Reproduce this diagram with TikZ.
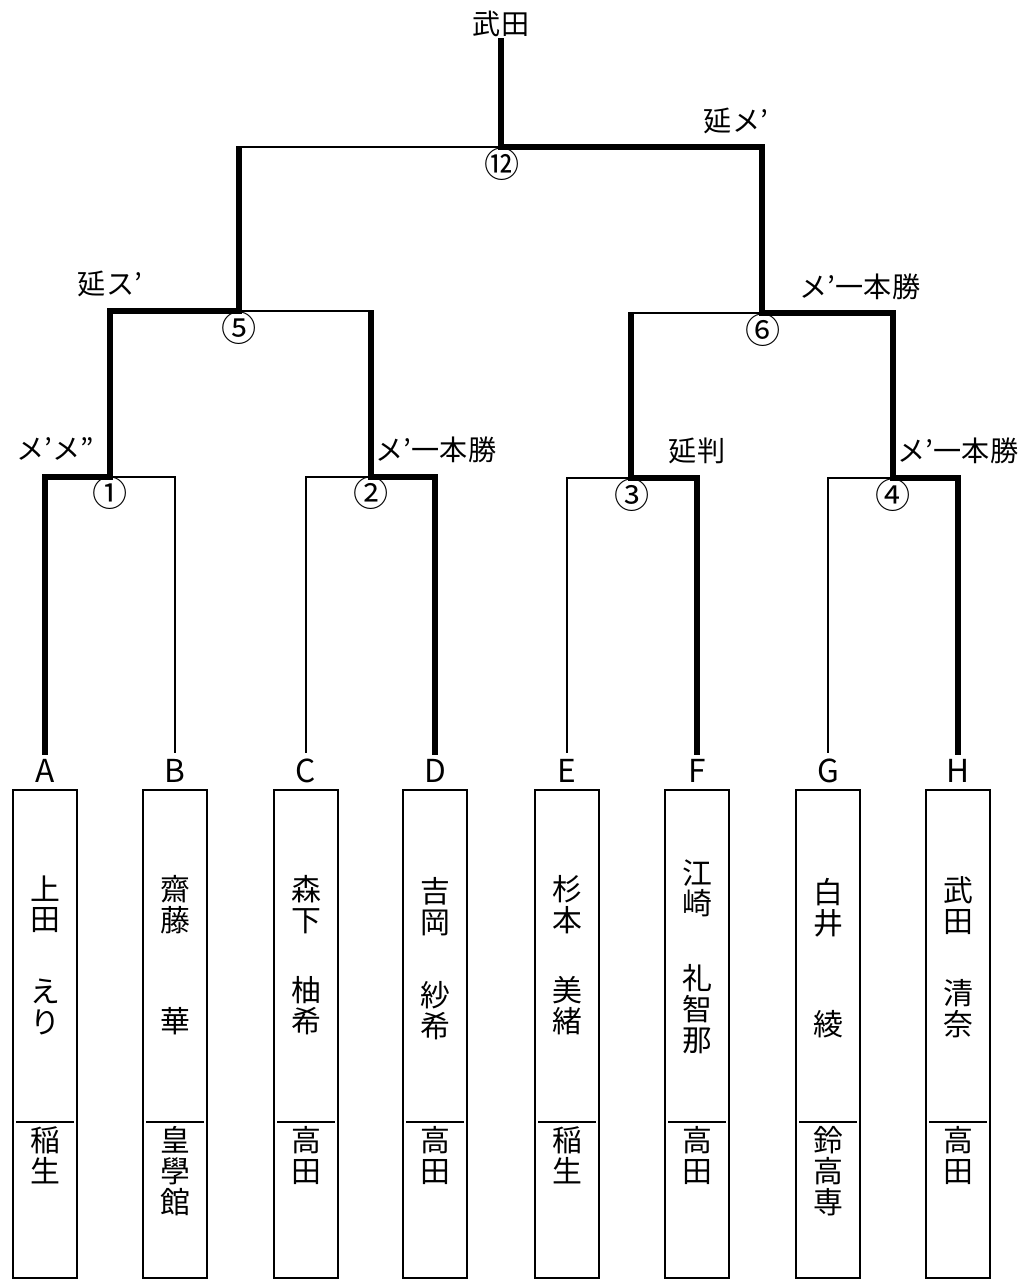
\documentclass[tikz,border=0pt]{standalone}
\usepackage{fontspec}
\setmainfont{Noto Sans CJK JP}

\begin{document}
\begin{tikzpicture}[x=0.02cm, y=-0.02cm,
  win/.style = {line width=3.8pt, line cap=rect},
  lose/.style = {line width=1.5pt, line cap=rect},
  leaf/.style = {inner sep=0pt, outer sep=4pt, font=\fontsize{18}{18}\selectfont},
  entrybox/.style = {draw, line width=1.3pt, minimum width=36.3pt,
    minimum height=277.8pt, inner sep=0pt},
  divider/.style = {line width=0.6pt},
  namecol/.style = {inner sep=0pt, align=center, font=\fontsize{17}{17.6}\selectfont},
  matchno/.style = {inner sep=0pt, font=\fontsize{20}{20}\selectfont},
  result/.style = {inner sep=0pt, font=\fontsize{16}{16}\selectfont}]
  \useasboundingbox (0,0) rectangle (1021,1286);

  % entrants
  \foreach \l/\x/\fam/\giv/\sch/\ft/\gb in {
      A/45/{上\\田}/{え\\り}/{稲\\生}/875/1035,
      B/175/{齋\\藤}/{華}/{皇\\學\\館}/875/1035,
      C/306/{森\\下}/{柚\\希}/{高\\田}/875/1035,
      D/435/{吉\\岡}/{紗\\希}/{高\\田}/877/1040,
      E/567/{杉\\本}/{美\\緒}/{稲\\生}/875/1035,
      F/697/{江\\崎}/{礼\\智\\那}/{高\\田}/859/1054,
      G/828/{白\\井}/{綾}/{鈴\\高\\専}/878/1038,
      H/958/{武\\田}/{清\\奈}/{高\\田}/876/1038} {
    \node[entrybox] (box\l) at (\x,1034) {};
    \node[leaf, anchor=base] (\l) at (\x,782) {\l};
    \draw[divider] (\x-29,1122) -- (\x+29,1122);
    \node[namecol, anchor=north] (fam\l) at (\x,\ft) {\fam};
    \node[namecol, anchor=south] (giv\l) at (\x,\gb) {\giv};
    \node[namecol, anchor=north] (sch\l) at (\x,1126) {\sch};
  }

  % match junctions
  \coordinate (m1) at (110,477);
  \coordinate (m2) at (371,477);
  \coordinate (m3) at (631,478);
  \coordinate (m4) at (893,478);
  \coordinate (m5) at (239,311);
  \coordinate (m6) at (762,313);
  \coordinate (m12) at (501,147);
  \node[result, outer sep=2.8pt] (champ) at (501,24) {武田};

  % losing sides
  \draw[lose] (B.north) |- (m1);
  \draw[lose] (C.north) |- (m2);
  \draw[lose] (E.north) |- (m3);
  \draw[lose] (G.north) |- (m4);
  \draw[lose] (m2 |- m5) -- (m5);
  \draw[lose] (m3 |- m6) -- (m6);
  \draw[lose] (m5 |- m12) -- (m12);

  % winning sides
  \draw[win, shorten >=1.15pt] (A.north) |- (m1) |- (m5) -- (m5 |- m12);
  \draw[win, shorten >=1.15pt] (D.north) |- (m2) -- (m2 |- m5);
  \draw[win, shorten >=1.15pt] (F.north) |- (m3) -- (m3 |- m6);
  \draw[win] (H.north) |- (m4) |- (m6) |- (m12) -- (champ.south);

  % match numbers
  \node[matchno] (n1) at (110,493) {①};
  \node[matchno] (n2) at (371,493) {②};
  \node[matchno] (n3) at (632,495) {③};
  \node[matchno] (n4) at (893,495) {④};
  \node[matchno] (n5) at (239,328) {⑤};
  \node[matchno] (n6) at (763,330) {⑥};
  \node[matchno] (n12) at (502,164) {⑫};

  % results
  \node[result] (r1) at (55,449) {メ’メ”};
  \node[result] (r2) at (436,450) {メ’一本勝};
  \node[result] (r3) at (697,451) {延判};
  \node[result] (r4) at (958,451) {メ’一本勝};
  \node[result] (r5) at (110,284) {延ス’};
  \node[result] (r6) at (860,287) {メ’一本勝};
  \node[result] (r12) at (736,121) {延メ’};
\end{tikzpicture}
\end{document}
